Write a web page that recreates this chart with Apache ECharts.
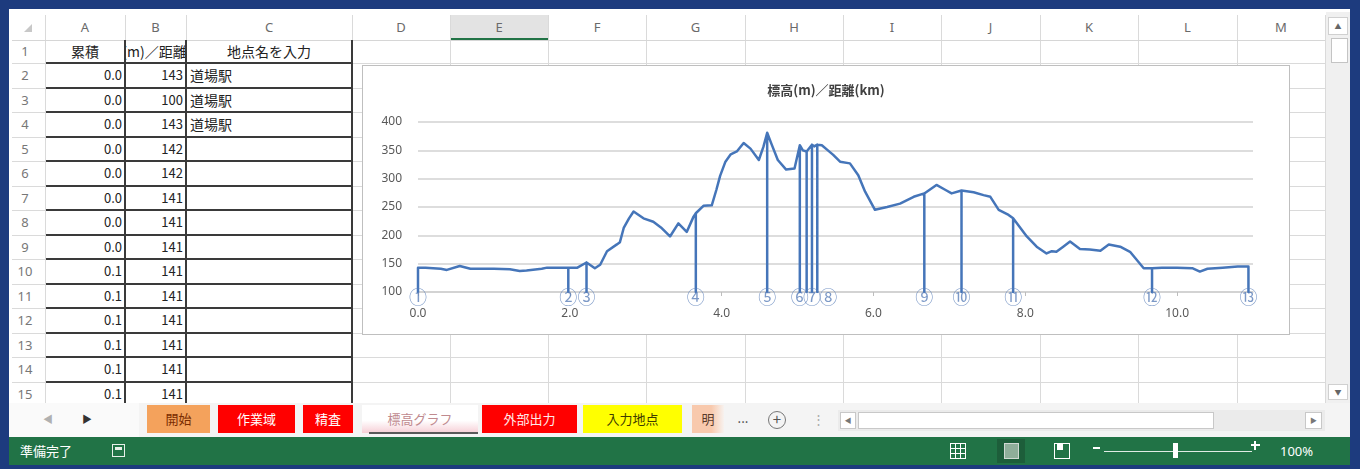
<!DOCTYPE html>
<html><head><meta charset="utf-8">
<script src="https://cdn.jsdelivr.net/npm/echarts@6/dist/echarts.min.js"></script>
<style>
html,body{margin:0;padding:0;}
body{width:1360px;height:469px;overflow:hidden;background:#1d3b7e;position:relative;font-family:"Noto Sans CJK JP","Noto Sans",sans-serif;}
div{box-sizing:border-box;}
</style>
</head><body>
<script>
// ---------- chart data ----------
const profileKm   = [0.10,0.30,0.38,0.55,0.69,1.00,1.21,1.34,1.43,1.63,1.70,1.85,2.10,2.33,2.40,2.49,2.62,2.66,2.71,2.78,2.84,2.97,3.10,3.20,3.32,3.43,3.54,3.63,3.76,3.87,3.93,3.98,4.05,4.12,4.20,4.29,4.38,4.49,4.55,4.66,4.74,4.85,4.96,5.07,5.22,5.32,5.40,5.47,5.56,5.69,5.80,5.89,6.02,6.18,6.35,6.53,6.83,6.95,7.03,7.32,7.45,7.54,7.65,7.78,8.02,8.15,8.28,8.35,8.41,8.50,8.59,8.72,8.85,8.99,9.10,9.25,9.38,9.56,9.80,10.00,10.20,10.30,10.40,10.60,10.80];
const profileElev = [143,141,139,146,141,141,140,137,138,141,143,143,143,142,148,172,184,188,213,230,242,230,224,214,198,221,206,233,252,253,280,305,330,343,348,363,353,333,356,360,333,316,318,350,357,359,350,342,330,327,306,277,245,250,256,268,289,280,274,276,271,268,245,236,198,180,168,172,171,180,189,176,175,173,184,180,171,142,143,143,142,136,141,143,145];
const stationKm    = [0.00,1.98,2.22,3.66,4.60,5.03,5.12,5.19,5.26,6.67,7.16,7.84,9.67,10.94];
const stationElev  = [143,143,152,239,381,359,348,360,360,274,279,230,142,145];
const stationLabel = ['①','②','③','④','⑤','⑥','','⑦','⑧','⑨','⑩','⑪','⑫','⑬'];
const baseElev = 100;
const chartTitle = '標高(m)／距離(km)';
const yTicks = [100,150,200,250,300,350,400];
const xTicks = [0,2,4,6,8,10];

// ---------- sheet data ----------
const colLetters = ['A','B','C','D','E','F','G','H','I','J','K','L','M'];
const headerRow  = ['累積','標高(m)／距離(km)','地点名を入力'];
const sheetColA  = ['0.0','0.0','0.0','0.0','0.0','0.0','0.0','0.0','0.1','0.1','0.1','0.1','0.1','0.1'];
const sheetColB  = ['143','100','143','142','142','141','141','141','141','141','141','141','141','141'];
const sheetColC  = ['道場駅','道場駅','道場駅','','','','','','','','','','',''];
const sheetTabs  = ['開始','作業域','精査','標高グラフ','外部出力','入力地点','明'];

// ---------- helpers ----------
function el(x,y,w,h,css,txt){
  const d=document.createElement('div');
  d.style.cssText=`position:absolute;left:${x}px;top:${y}px;width:${w}px;height:${h}px;`+(css||'');
  if(txt!=null) d.textContent=txt;
  document.body.appendChild(d); return d;
}

// sheet background
el(9,9,1341,428,'background:#fff;');

const colX=[45,125,186,352,450,548,646,745,843,941,1040,1138,1237,1325];
// header
el(450,15,98,25,'background:#e3e3e3;');
el(450,38,98,2,'background:#217346;');
for(let i=0;i<colLetters.length;i++){
  el(colX[i],15,colX[i+1]-colX[i],25,'text-align:center;line-height:25px;color:#6a6a6a;font-size:13px;font-family:"Noto Sans",sans-serif;',colLetters[i]);
}
el(24,24,0,0,'border-left:8px solid transparent;border-bottom:8px solid #c8c8c8;');

// row geometry
const rowTop=[40]; const rowH=[23];
for(let r=2;r<=15;r++){ rowTop.push(63+24.5*(r-2)); rowH.push(24.5); }

// light gridlines
for(const x of colX){ el(x,15,1,388,'background:#dadada;'); }
el(12,40,1313,1,'background:#d6d6d6;');
for(let i=0;i<15;i++){ el(12,Math.round(rowTop[i]+rowH[i]),1313,1,'background:#dadada;'); }

// row numbers
for(let i=0;i<15;i++){
  el(10,rowTop[i],30,rowH[i],`text-align:center;line-height:${rowH[i]}px;color:#777;font-size:13px;font-family:"Noto Sans",sans-serif;`,String(i+1));
}

// table borders
for(const x of [125,186,352]){ el(x-1,40,2,363,'background:#3a3a3a;'); }
for(let i=0;i<15;i++){ el(46,Math.round(rowTop[i]+rowH[i])-1,307,2,'background:#3a3a3a;'); }

// header row texts
el(45,40,80,23,'text-align:center;line-height:23px;font-size:14px;color:#222;',headerRow[0]);
const b1=el(126,40,59,23,'overflow:hidden;white-space:nowrap;line-height:23px;font-size:14px;color:#222;');
const b1s=document.createElement('span'); b1s.textContent=headerRow[1];
b1s.style.cssText='position:absolute;left:50%;transform:translateX(-50%);'; b1.appendChild(b1s);
el(186,40,166,23,'text-align:center;line-height:23px;font-size:14px;color:#222;',headerRow[2]);

// body cells
for(let i=0;i<sheetColA.length;i++){
  const t=rowTop[i+1], h=rowH[i+1];
  el(45,t,77,h,`text-align:right;line-height:${h}px;font-size:13px;color:#222;`,sheetColA[i]);
  el(125,t,58,h,`text-align:right;line-height:${h}px;font-size:13px;color:#222;`,sheetColB[i]);
  el(190,t,160,h,`text-align:left;line-height:${h}px;font-size:14px;color:#222;`,sheetColC[i]);
}

// vertical scrollbar
el(1326,12,24,391,'background:#f0f0f0;');
el(1328,17,20,18,'background:#fff;border:1px solid #d0d0d0;text-align:center;font-size:7px;line-height:16px;color:#666;','▲');
el(1331,38,17,25,'background:#fff;border:1px solid #c4c4c4;');
el(1328,384,20,16,'background:#fff;border:1px solid #d0d0d0;text-align:center;font-size:7px;line-height:14px;color:#666;','▼');

// chart box
el(362,65,928,270,'background:#fff;border:1px solid #bfbfbf;');
const chartDiv=el(363,66,926,268,'');

// tab bar
el(9,403,1341,34,'background:#f4f4f4;');
el(9,403,130,34,'background:#fafafa;');
el(42,405,12,28,'color:#b0b0b0;font-size:10px;line-height:28px;text-align:center;','◀');
el(81,405,12,28,'color:#333;font-size:10px;line-height:28px;text-align:center;','▶');
const tabDefs=[
  [147,63,'#f4a25c','#7a2c00'],
  [218,77,'#ff0000','#ffffff'],
  [303,50,'#ff0000','#ffffff'],
  [362,116,'linear-gradient(#ffffff 55%,#f6cfd6)','#c08a8f'],
  [482,95,'#ff0000','#ffe8e8'],
  [583,99,'#ffff00','#403c00'],
  [692,32,'linear-gradient(90deg,#f8c9ad 60%,#f7f2ef)','#5a3a2a']
];
for(let i=0;i<sheetTabs.length;i++){
  const [x,w,bg,fg]=tabDefs[i];
  el(x,405,w,28,`background:${bg};color:${fg};text-align:center;line-height:28px;font-size:13px;overflow:hidden;white-space:nowrap;`,sheetTabs[i]);
}
el(369,432,109,2,'background:#5a5a5a;');
el(732,405,22,28,'color:#444;font-size:13px;line-height:26px;text-align:center;','...');
el(768,411,18,18,'border:1.5px solid #777;border-radius:50%;color:#555;font-size:15px;line-height:14px;text-align:center;','+');
el(812,405,10,28,'color:#aaa;font-size:13px;line-height:28px;text-align:center;','⋮');
// horizontal scrollbar
el(838,410,487,21,'background:#ebebeb;');
el(840,412,16,17,'background:#fff;border:1px solid #c8c8c8;color:#777;font-size:7px;line-height:15px;text-align:center;','◀');
el(858,412,356,17,'background:#fff;border:1px solid #c8c8c8;');
el(1305,412,17,17,'background:#fff;border:1px solid #c8c8c8;color:#777;font-size:7px;line-height:15px;text-align:center;','▶');

// status bar
el(9,437,1341,28,'background:#217346;');
el(20,437,80,28,'color:#fff;font-size:13px;line-height:28px;','準備完了');
el(112,444,13,13,'border:1.5px solid #e8f0ea;');
el(115,447,7,3,'background:#e8f0ea;');
// view icons
el(950,443,16,16,'border:1.5px solid #fff;background:repeating-linear-gradient(90deg,transparent 0 4px,#fff 4px 5px),repeating-linear-gradient(0deg,transparent 0 4px,#fff 4px 5px);');
el(997,439,28,24,'background:#1d5e3a;');
el(1004,443,15,16,'border:1.5px solid #cfd8d2;background:#8fae9a;');
el(1054,443,16,16,'border:1.5px solid #fff;');
el(1057,443,6,7,'background:#fff;');
el(1093,447,7,2,'background:#fff;');
el(1104,451,148,1,'background:#e0ebe4;');
el(1173,443,5,15,'background:#fff;');
el(1251,444,9,2,'background:#fff;');
el(1254,441,2,9,'background:#fff;');
el(1280,437,50,28,'color:#fff;font-size:13px;line-height:28px;font-family:"Noto Sans",sans-serif;','100%');

// ---------- chart ----------
const pts=[];
profileKm.forEach((k,i)=>pts.push({k:k,e:profileElev[i],s:-1,o:0}));
stationKm.forEach((k,i)=>{
  pts.push({k:k,e:stationElev[i],s:i,o:0});
  pts.push({k:k,e:baseElev,s:i,o:1});
  pts.push({k:k,e:stationElev[i],s:i,o:2});
});
pts.sort((a,b)=>(a.k-b.k)||(a.s-b.s)||(a.o-b.o));
const lineData=pts.map(p=>[p.k,p.e]);

const labelShift={8:[11,5]};
const labelData=stationKm.map((k,i)=>{
  const item={value:[k,baseElev],name:stationLabel[i]};
  if(labelShift[i]) item.label={offset:labelShift[i]};
  return item;
});

const chart=echarts.init(chartDiv,null,{renderer:'canvas'});
chart.setOption({
  animation:false,
  title:{text:chartTitle,left:'center',top:13,textStyle:{fontSize:13,fontWeight:'bold',color:'#404040',fontFamily:'"Noto Sans CJK JP"'}},
  grid:{left:55,right:36,top:56,bottom:42},
  xAxis:{type:'value',min:0,max:11,interval:2,
    axisLine:{show:true,lineStyle:{color:'#d0d0d0',width:1.5}},
    axisTick:{show:true,length:4,lineStyle:{color:'#bdbdbd'}},
    splitLine:{show:false},
    axisLabel:{showMaxLabel:false,color:'#595959',fontSize:12,margin:16,fontFamily:'"Noto Sans","DejaVu Sans",sans-serif',
      formatter:v=>xTicks.indexOf(v)>=0?v.toFixed(1):''}},
  yAxis:{type:'value',min:yTicks[0],max:yTicks[yTicks.length-1],interval:50,
    axisLine:{show:false},axisTick:{show:false},
    splitLine:{lineStyle:{color:'#d2d2d2',width:1.5}},
    axisLabel:{color:'#595959',fontSize:12,margin:16,fontFamily:'"Noto Sans","DejaVu Sans",sans-serif'}},
  series:[
    {type:'line',data:lineData,showSymbol:false,symbol:'none',z:3,
      lineStyle:{color:'#4575b9',width:2.5,join:'round'}},
    {type:'scatter',data:labelData,symbolSize:1,z:4,itemStyle:{color:'rgba(0,0,0,0)'},
      label:{show:true,position:'inside',formatter:'{b}',offset:[0,5],color:'#5b80b9',fontSize:18,fontFamily:'"Noto Sans CJK JP"'}}
  ]
});
</script>
</body></html>
